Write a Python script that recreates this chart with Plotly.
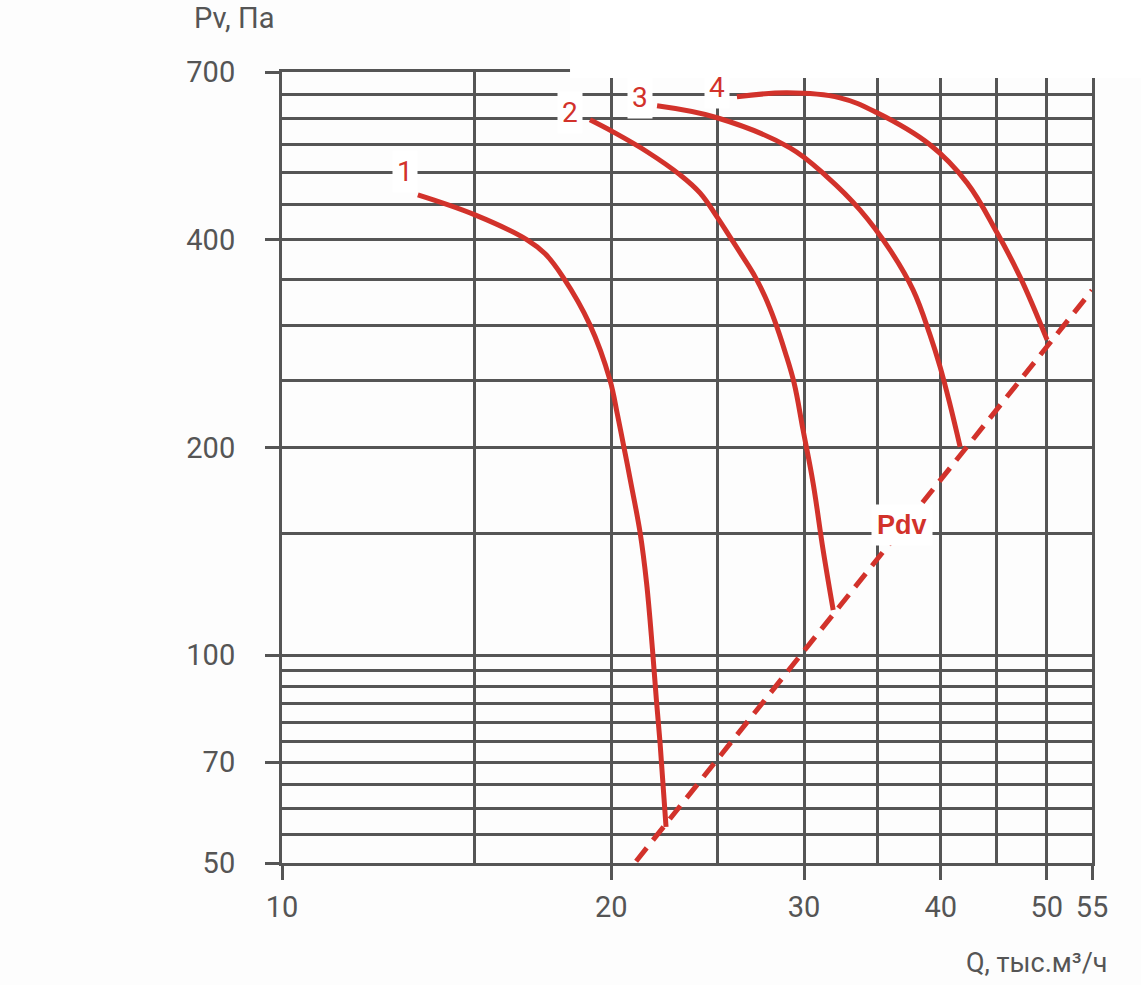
import math
import plotly.graph_objects as go

# ---- data ----
q1 = [13.31, 15.01, 16.75, 17.40, 18.06, 19.12, 19.94, 20.26, 20.56, 20.84, 21.25, 21.54, 21.81, 21.99, 22.16, 22.44]
p1 = [464.6, 434.6, 399.9, 381.6, 353.4, 301.1, 250.6, 223.0, 198.4, 177.6, 150.4, 127.2, 101.8, 86.1, 74.6, 56.4]

q2 = [19.12, 20.07, 21.56, 23.11, 24.10, 24.98, 25.67, 26.34, 27.07, 27.64, 28.23, 28.83, 29.38, 29.94, 30.58, 31.23, 31.90]
p2 = [596.8, 573.3, 536.5, 496.7, 467.7, 431.8, 403.9, 379.0, 353.4, 330.6, 304.1, 275.1, 248.1, 212.1, 177.6, 142.1, 116.3]

q3 = [22.02, 24.98, 29.13, 31.49, 33.75, 35.95, 37.74, 39.11, 39.95, 40.80, 41.67]
p3 = [625.3, 600.9, 543.6, 493.4, 441.9, 386.7, 338.4, 291.2, 261.7, 230.5, 200.4]

q4 = [26.05, 28.95, 32.36, 34.99, 39.11, 42.28, 45.04, 47.27, 50.04]
p4 = [644.3, 653.0, 642.2, 610.8, 549.0, 483.6, 409.3, 353.4, 286.4]

pdv_q = [21.07, 55.0]
pdv_p = [50.3, 338.0]

curve_labels = ["1", "2", "3", "4"]
label_q = [12.95, 18.33, 21.25, 24.98]
label_p = [502, 611, 642, 664]

pdv_label = "Pdv"
pdv_label_q = 36.86
pdv_label_p = 154.5

x_major = [10, 20, 30, 40, 50, 55]
x_minor = [15, 25, 35, 45]
y_major = [50, 70, 100, 200, 400, 700]
y_minor = [55, 60, 65, 75, 80, 85, 90, 95, 150, 250, 300, 350, 450, 500, 550, 600, 650]

x_title = "Q, тыс.м³/ч"
y_title = "Pv, Па"

# ---- styles ----
RED = "#d2322b"
GRID = "#555555"
TXT = "#555555"
FONT = "Roboto, Liberation Sans, sans-serif"

fig = go.Figure()
for q, p in [(q1, p1), (q2, p2), (q3, p3), (q4, p4)]:
    fig.add_trace(go.Scatter(x=q, y=p, mode="lines",
                             line=dict(color=RED, width=5, shape="spline", smoothing=1.1),
                             hoverinfo="skip", showlegend=False))
fig.add_trace(go.Scatter(x=pdv_q, y=pdv_p, mode="lines",
                         line=dict(color=RED, width=5, dash="17px,10px"),
                         hoverinfo="skip", showlegend=False))

annotations = []
for t, q, p in zip(curve_labels, label_q, label_p):
    annotations.append(dict(x=math.log10(q), y=math.log10(p), xref="x", yref="y", text=t,
                            showarrow=False, bgcolor="#ffffff", borderpad=4,
                            font=dict(family=FONT, size=28, color=RED)))
annotations.append(dict(x=math.log10(pdv_label_q), y=math.log10(pdv_label_p), xref="x", yref="y",
                        text="<b>" + pdv_label + "</b>", showarrow=False, bgcolor="#ffffff",
                        borderpad=5, font=dict(family="Liberation Sans, Arial, sans-serif",
                                               size=27, color=RED)))
annotations.append(dict(x=1.0222, y=-0.1264, xref="paper", yref="paper", text=x_title,
                        xanchor="right", yanchor="middle", showarrow=False,
                        font=dict(family=FONT, size=27, color=TXT)))
annotations.append(dict(x=-0.111, y=1.068, xref="paper", yref="paper", text=y_title,
                        xanchor="left", yanchor="middle", showarrow=False,
                        font=dict(family=FONT, size=29, color=TXT)))

axis_common = dict(
    type="log", showgrid=True, gridcolor=GRID, gridwidth=3,
    ticks="outside", ticklen=14, tickwidth=3, tickcolor=GRID,
    showline=True, linecolor=GRID, linewidth=3, mirror=True, zeroline=False,
    tickfont=dict(family=FONT, size=29, color=TXT), automargin=False,
)

fig.update_layout(
    width=1141, height=985,
    margin=dict(l=282, r=49, t=72, b=122),
    paper_bgcolor="#fdfdfd", plot_bgcolor="#fdfdfd",
    xaxis=dict(range=[math.log10(10), math.log10(55)], tickmode="array", tickvals=x_major,
               ticktext=[str(v) for v in x_major], ticklabelstandoff=2,
               minor=dict(tickmode="array", tickvals=x_minor, showgrid=True, gridcolor=GRID,
                          gridwidth=3, ticks=""),
               **axis_common),
    yaxis=dict(range=[math.log10(50), math.log10(700)], tickmode="array", tickvals=y_major,
               ticktext=[str(v) for v in y_major], ticklabelstandoff=24,
               minor=dict(tickmode="array", tickvals=y_minor, showgrid=True, gridcolor=GRID,
                          gridwidth=3, ticks=""),
               **axis_common),
    annotations=annotations,
    shapes=[dict(type="rect", xref="paper", yref="paper", x0=0.3556, x1=1.07,
                 y0=0.9924, y1=1.2, fillcolor="#ffffff", line=dict(width=0), layer="above")],
)

fig.write_html("out.html")
